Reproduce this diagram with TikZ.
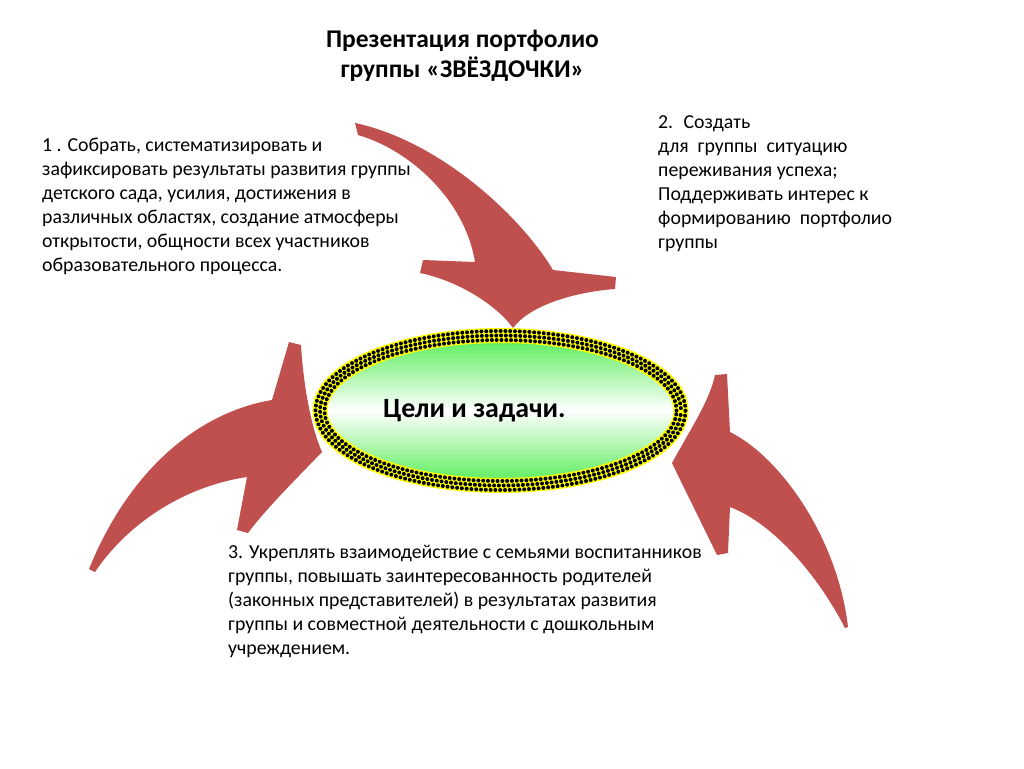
\documentclass[tikz,border=0pt]{standalone}
\usepackage{fontspec}
\setmainfont{Carlito}
\definecolor{arrowred}{RGB}{192,80,77}
\definecolor{ovalgreen}{RGB}{95,238,95}
\definecolor{bandyellow}{RGB}{255,255,0}
\tikzset{
  arrowshape/.style={fill=arrowred, draw=none},
  bodytext/.style={anchor=base west, inner sep=0pt, font=\fontsize{19.8}{24}\selectfont},
  titletext/.style={anchor=base, inner sep=0pt, font=\bfseries\fontsize{25.5}{30.5}\selectfont},
  centertext/.style={anchor=base west, inner sep=0pt, font=\bfseries\fontsize{27.9}{32}\selectfont},
  dotrow/.style={black, line width=4pt, line cap=round, dash pattern=on 0pt off 4.8pt}
}
\begin{document}
\begin{tikzpicture}[x=1pt,y=-1pt]
\useasboundingbox (0,0) rectangle (1024,768);
\fill[white] (0,0) rectangle (1024,768);

% top arrow
\fill[arrowshape] (355,123) -- (358,135)
  .. controls (410,150) and (465,200) .. (475,262)
  -- (423,260) -- (420,273)
  .. controls (455,280) and (495,303) .. (513,328)
  .. controls (530,305) and (575,292) .. (615,289)
  -- (616,277) -- (553,270)
  .. controls (518,212) and (436,140) .. (355,123) -- cycle;

% left arrow
\fill[arrowshape] (89,569)
  .. controls (130,468) and (200,412) .. (272,400)
  -- (289,342) -- (301,345)
  .. controls (303,380) and (310,425) .. (322,452)
  .. controls (295,480) and (265,510) .. (248,533)
  -- (237,530) -- (247,477)
  .. controls (180,487) and (125,527) .. (95,572) -- cycle;

% right arrow
\fill[arrowshape] (715,375) -- (727,374) -- (730,432)
  .. controls (782,458) and (838,540) .. (848,627)
  -- (845,628)
  .. controls (815,570) and (770,522) .. (730,507)
  -- (728,553) -- (717,555)
  .. controls (700,520) and (685,490) .. (672,463)
  .. controls (690,430) and (710,400) .. (715,375) -- cycle;

% central oval
\coordinate (oc) at (500.5,410.5);
\shade[top color=ovalgreen, bottom color=ovalgreen, middle color=white]
  (oc) ellipse [x radius=175pt, y radius=70pt];
\draw[bandyellow, line width=15pt] (oc) ellipse [x radius=180.5pt, y radius=75pt];
\draw[dotrow] (oc) ellipse [x radius=176pt, y radius=70.5pt];
\draw[dotrow, dash phase=2.4pt] (oc) ellipse [x radius=180.5pt, y radius=75pt];
\draw[dotrow] (oc) ellipse [x radius=185pt, y radius=79.5pt];

\node[centertext] (center) at (383,417) {Цели и задачи.};

% texts
\node[titletext] (title) at (462.5,47.5) {\begin{tabular}[t]{@{}c@{}}Презентация портфолио\\группы «ЗВЁЗДОЧКИ»\end{tabular}};

\node[bodytext] (goalA) at (42,151) {\begin{tabular}[t]{@{}l@{}}1 . Собрать, систематизировать и\\
зафиксировать результаты развития группы\\
детского сада, усилия, достижения в\\
различных областях, создание атмосферы\\
открытости, общности всех участников\\
образовательного процесса.\end{tabular}};

\node[bodytext] (goalB) at (658,128) {\begin{tabular}[t]{@{}l@{}}2.~ Создать\\
для~ группы~ ситуацию\\
переживания успеха;\\
Поддерживать интерес к\\
формированию~ портфолио\\
группы\end{tabular}};

\node[bodytext] (goalC) at (228,558.5) {\begin{tabular}[t]{@{}l@{}}3. Укреплять взаимодействие с семьями воспитанников\\
группы, повышать заинтересованность родителей\\
(законных представителей) в результатах развития\\
группы и совместной деятельности с дошкольным\\
учреждением.\end{tabular}};
\end{tikzpicture}
\end{document}
